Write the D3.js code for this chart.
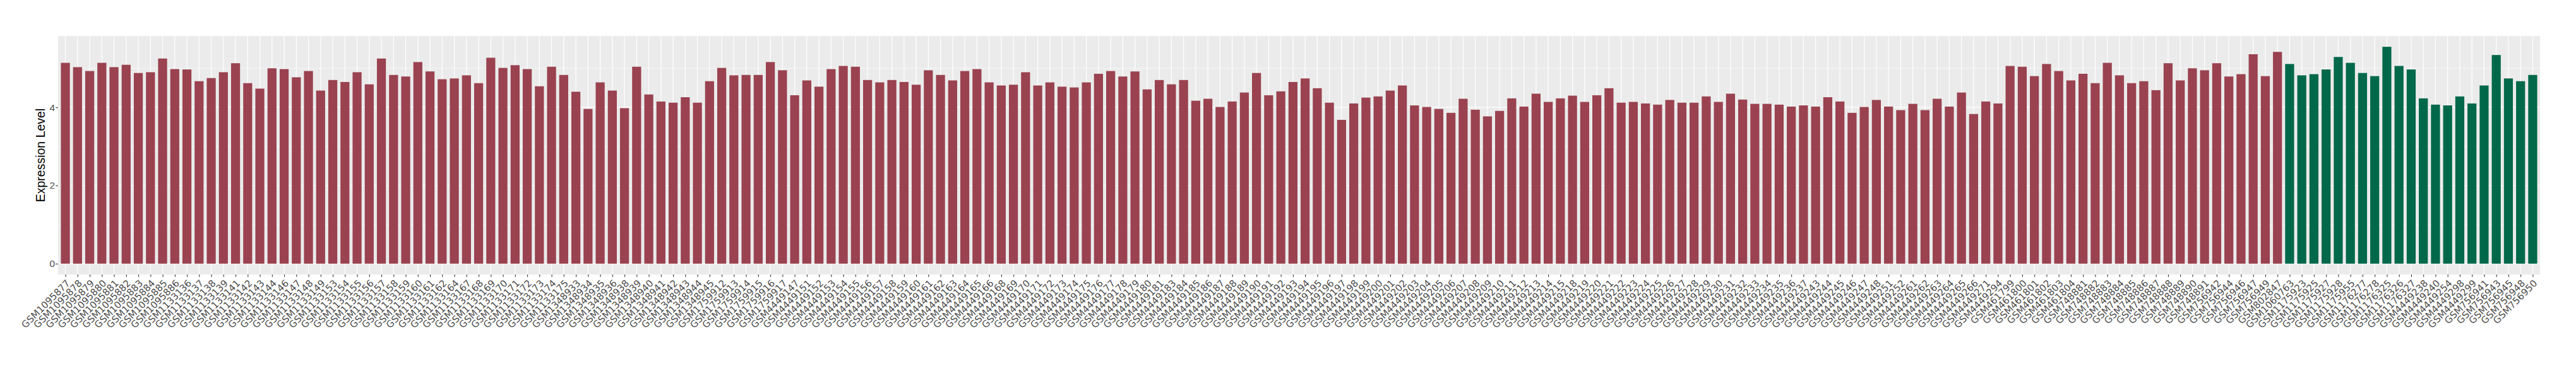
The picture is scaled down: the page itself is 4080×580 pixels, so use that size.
<!DOCTYPE html>
<html>
<head>
<meta charset="utf-8">
<script src="https://cdn.jsdelivr.net/npm/d3@7"></script>
<style>
    body { margin: 0; background: #fff; }
</style>
</head>
<body>
<script>
// first group (dark red bars)
const samplesA = [
    "GSM1095877", "GSM1095878", "GSM1095879", "GSM1095880", "GSM1095881", "GSM1095882", "GSM1095883", "GSM1095884",
    "GSM1095885", "GSM1095886", "GSM1133136", "GSM1133137", "GSM1133138", "GSM1133139", "GSM1133141", "GSM1133142",
    "GSM1133143", "GSM1133144", "GSM1133146", "GSM1133147", "GSM1133148", "GSM1133149", "GSM1133153", "GSM1133154",
    "GSM1133155", "GSM1133156", "GSM1133157", "GSM1133158", "GSM1133159", "GSM1133160", "GSM1133161", "GSM1133162",
    "GSM1133164", "GSM1133167", "GSM1133168", "GSM1133169", "GSM1133170", "GSM1133171", "GSM1133172", "GSM1133173",
    "GSM1133174", "GSM1133175", "GSM1348933", "GSM1348934", "GSM1348935", "GSM1348936", "GSM1348938", "GSM1348939",
    "GSM1348940", "GSM1348941", "GSM1348942", "GSM1348943", "GSM1348944", "GSM1348945", "GSM1759912", "GSM1759913",
    "GSM1759914", "GSM1759915", "GSM1759916", "GSM1759917", "GSM4449147", "GSM4449151", "GSM4449152", "GSM4449153",
    "GSM4449154", "GSM4449155", "GSM4449156", "GSM4449157", "GSM4449158", "GSM4449159", "GSM4449160", "GSM4449161",
    "GSM4449162", "GSM4449163", "GSM4449164", "GSM4449165", "GSM4449166", "GSM4449168", "GSM4449169", "GSM4449170",
    "GSM4449171", "GSM4449172", "GSM4449173", "GSM4449174", "GSM4449175", "GSM4449176", "GSM4449177", "GSM4449178",
    "GSM4449179", "GSM4449180", "GSM4449181", "GSM4449183", "GSM4449184", "GSM4449185", "GSM4449186", "GSM4449187",
    "GSM4449188", "GSM4449189", "GSM4449190", "GSM4449191", "GSM4449192", "GSM4449193", "GSM4449194", "GSM4449195",
    "GSM4449196", "GSM4449197", "GSM4449198", "GSM4449199", "GSM4449200", "GSM4449201", "GSM4449202", "GSM4449203",
    "GSM4449204", "GSM4449205", "GSM4449206", "GSM4449207", "GSM4449208", "GSM4449209", "GSM4449210", "GSM4449211",
    "GSM4449212", "GSM4449213", "GSM4449214", "GSM4449215", "GSM4449218", "GSM4449219", "GSM4449220", "GSM4449221",
    "GSM4449222", "GSM4449223", "GSM4449224", "GSM4449225", "GSM4449226", "GSM4449227", "GSM4449228", "GSM4449229",
    "GSM4449230", "GSM4449231", "GSM4449232", "GSM4449233", "GSM4449234", "GSM4449235", "GSM4449236", "GSM4449237",
    "GSM4449243", "GSM4449244", "GSM4449245", "GSM4449246", "GSM4449247", "GSM4449248", "GSM4449251", "GSM4449252",
    "GSM4449261", "GSM4449262", "GSM4449263", "GSM4449264", "GSM4449265", "GSM4449266", "GSM4449271", "GSM4449294",
    "GSM461799", "GSM461800", "GSM461801", "GSM461802", "GSM461803", "GSM461804", "GSM748881", "GSM748882",
    "GSM748883", "GSM748884", "GSM748885", "GSM748886", "GSM748887", "GSM748888", "GSM748889", "GSM748890",
    "GSM748891", "GSM756942", "GSM756944", "GSM756946", "GSM756947", "GSM756949", "GSM802847"
];
const valuesA = [
    5.14, 5.03, 4.93, 5.14, 5.03, 5.09, 4.88, 4.90,
    5.25, 4.98, 4.97, 4.67, 4.75, 4.90, 5.13, 4.62,
    4.48, 5.00, 4.98, 4.77, 4.93, 4.43, 4.70, 4.65,
    4.90, 4.59, 5.25, 4.83, 4.79, 5.16, 4.92, 4.72,
    4.74, 4.82, 4.62, 5.27, 5.01, 5.08, 4.98, 4.54,
    5.04, 4.83, 4.40, 3.96, 4.64, 4.43, 3.98, 5.04,
    4.33, 4.15, 4.12, 4.26, 4.12, 4.67, 5.01, 4.82,
    4.83, 4.83, 5.16, 4.95, 4.31, 4.69, 4.53, 4.98,
    5.06, 5.04, 4.70, 4.64, 4.70, 4.65, 4.58, 4.95,
    4.83, 4.69, 4.93, 4.98, 4.64, 4.56, 4.58, 4.90,
    4.56, 4.64, 4.53, 4.51, 4.64, 4.86, 4.93, 4.79,
    4.92, 4.46, 4.70, 4.59, 4.70, 4.17, 4.22, 4.01,
    4.15, 4.38, 4.88, 4.31, 4.41, 4.65, 4.74, 4.49,
    4.12, 3.68, 4.10, 4.25, 4.28, 4.43, 4.56, 4.05,
    4.01, 3.96, 3.86, 4.22, 3.94, 3.77, 3.91, 4.23,
    4.02, 4.35, 4.14, 4.23, 4.30, 4.14, 4.31, 4.49,
    4.12, 4.14, 4.10, 4.07, 4.19, 4.12, 4.12, 4.28,
    4.14, 4.35, 4.20, 4.09, 4.09, 4.07, 4.02, 4.05,
    4.02, 4.26, 4.15, 3.86, 4.01, 4.19, 4.02, 3.93,
    4.09, 3.93, 4.22, 4.02, 4.38, 3.83, 4.15, 4.10,
    5.06, 5.04, 4.80, 5.11, 4.93, 4.69, 4.86, 4.62,
    5.14, 4.82, 4.62, 4.67, 4.44, 5.13, 4.69, 5.00,
    4.95, 5.13, 4.79, 4.85, 5.36, 4.80, 5.42
];
// second group (dark green bars)
const samplesB = [
    "GSM1060763", "GSM1175923", "GSM1175925", "GSM1175927", "GSM1175928", "GSM1175955", "GSM1176277",
    "GSM1176278", "GSM1176325", "GSM1176326", "GSM1176327", "GSM4449238", "GSM4449240", "GSM4449254",
    "GSM4449298", "GSM4449299", "GSM756941", "GSM756943", "GSM756945", "GSM756948", "GSM756950"
];
const valuesB = [
    5.11, 4.82, 4.85, 4.97, 5.29, 5.14, 4.88,
    4.80, 5.55, 5.06, 4.97, 4.23, 4.07, 4.05,
    4.28, 4.10, 4.56, 5.34, 4.74, 4.67, 4.83
];
const yTicks = [0, 2, 4];
const yTitle = "Expression Level";

let dataset = [];
samplesA.forEach((s, i) => dataset.push({ sample: s, value: valuesA[i], group: "A" }));
samplesB.forEach((s, i) => dataset.push({ sample: s, value: valuesB[i], group: "B" }));

const width = 4080, height = 580;
const panel = { left: 92, right: 4023, top: 57, bottom: 435 };

const svg = d3.select("body").append("svg")
    .attr("width", width)
    .attr("height", height)
    .style("background", "#fff");

// discrete axis with ggplot-like 0.6 expansion on both sides
const x = d3.scalePoint()
    .domain(dataset.map(d => d.sample))
    .range([panel.left, panel.right])
    .padding(0.6);

const yMax = d3.max(dataset, d => d.value);
const y = d3.scaleLinear()
    .domain([-0.05 * yMax, 1.05 * yMax])
    .range([panel.bottom, panel.top]);

const color = d3.scaleOrdinal()
    .domain(["A", "B"])
    .range(["#9A4250", "#02684A"]);

// panel background
svg.append("rect")
    .attr("x", panel.left)
    .attr("y", panel.top)
    .attr("width", panel.right - panel.left)
    .attr("height", panel.bottom - panel.top)
    .attr("fill", "#EBEBEB");

// minor grid (odd values) then major grid
const grid = svg.append("g").attr("stroke", "#fff");
[1, 3, 5].forEach(v => {
    grid.append("line")
        .attr("x1", panel.left).attr("x2", panel.right)
        .attr("y1", y(v)).attr("y2", y(v))
        .attr("stroke-width", 0.6);
});
yTicks.forEach(v => {
    grid.append("line")
        .attr("x1", panel.left).attr("x2", panel.right)
        .attr("y1", y(v)).attr("y2", y(v))
        .attr("stroke-width", 1.2);
});
grid.selectAll("line.vx")
    .data(dataset)
    .enter().append("line")
    .attr("class", "vx")
    .attr("x1", d => x(d.sample)).attr("x2", d => x(d.sample))
    .attr("y1", panel.top).attr("y2", panel.bottom)
    .attr("stroke-width", 1.2);

// bars
const barW = x.step() * 0.74;
svg.append("g")
    .selectAll("rect")
    .data(dataset)
    .enter().append("rect")
    .attr("x", d => x(d.sample) - barW / 2)
    .attr("width", barW)
    .attr("y", d => y(d.value))
    .attr("height", d => y(0) - y(d.value))
    .attr("fill", d => color(d.group));

// x axis
const xAxis = svg.append("g")
    .attr("transform", "translate(0," + panel.bottom + ")")
    .call(d3.axisBottom(x).tickSize(3.7).tickSizeOuter(0));
xAxis.select(".domain").remove();
xAxis.selectAll(".tick line").attr("stroke", "#333333").attr("stroke-width", 1.1);
xAxis.selectAll(".tick text")
    .attr("font-family", "DejaVu Sans")
    .attr("font-size", 15)
    .attr("fill", "#4D4D4D")
    .attr("text-anchor", "end")
    .attr("x", 0)
    .attr("y", 0)
    .attr("dy", "0.72em")
    .attr("transform", "translate(0,7) rotate(-45)");

// y axis
const yAxis = svg.append("g")
    .attr("transform", "translate(" + panel.left + ",0)")
    .call(d3.axisLeft(y).tickValues(yTicks).tickSize(3.7).tickPadding(1.2).tickFormat(d3.format("d")));
yAxis.select(".domain").remove();
yAxis.selectAll(".tick line").attr("stroke", "#333333").attr("stroke-width", 1.1);
yAxis.selectAll(".tick text")
    .attr("font-family", "Liberation Sans")
    .attr("font-size", 15.5)
    .attr("fill", "#4D4D4D");

// y title
svg.append("text")
    .attr("transform", "translate(71," + (panel.top + panel.bottom) / 2 + ") rotate(-90)")
    .attr("text-anchor", "middle")
    .attr("font-family", "Liberation Sans")
    .attr("font-size", 19.5)
    .attr("fill", "#000")
    .text(yTitle);
</script>
</body>
</html>
